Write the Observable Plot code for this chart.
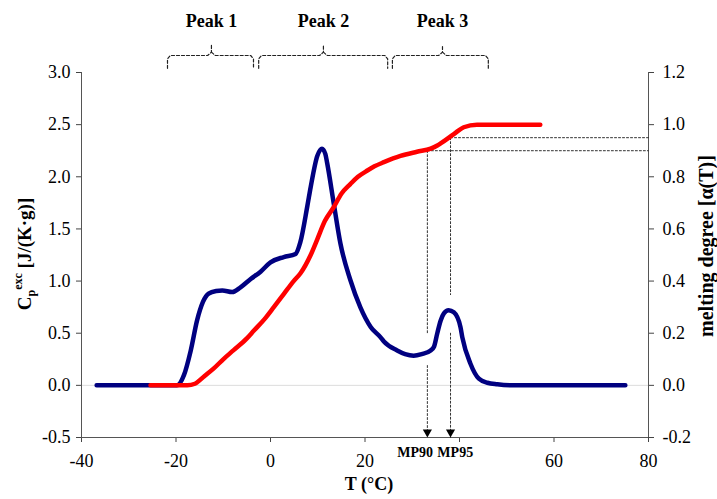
<!DOCTYPE html>
<html><head><meta charset="utf-8">
<script src="https://cdn.jsdelivr.net/npm/d3@7"></script>
<script src="https://cdn.jsdelivr.net/npm/@observablehq/plot@0.6"></script>
<style>body{margin:0;background:#fff} svg, svg text{font-family:"Liberation Serif", serif;}</style>
</head><body><div id="chart"></div>
<script>
// Excess heat capacity curve (blue)
const cpT = [-36.8,-19.8,-18.3,-16.9,-15.5,-14.3,-13.1,-11.5,-10.2,-8.1,-6.35,-4.2,-2.1,0,2.8,5.3,6.3,7.8,8.5,9.9,10.9,11.6,12.0,13.4,14.8,16.9,19.0,21.2,23.3,24.0,26.8,28.5,30.3,32.0,33.9,34.6,35.3,36.0,36.7,37.7,38.8,40.2,40.6,42.3,44.1,45.9,48,51.5,75.1];
const cpV = [0,0,0.10,0.33,0.63,0.80,0.88,0.905,0.91,0.895,0.94,1.02,1.09,1.18,1.23,1.26,1.37,1.72,1.90,2.20,2.27,2.22,2.13,1.74,1.36,1.01,0.75,0.56,0.46,0.42,0.335,0.30,0.285,0.30,0.335,0.37,0.50,0.62,0.69,0.72,0.70,0.56,0.46,0.21,0.064,0.025,0.01,0,0];
// Melting degree alpha(T) (red, right axis)
const alphaT = [-25.4,-17.6,-16,-15.5,-14,-12,-10,-7.8,-5,-3.5,-1,0.7,2.8,4.9,6.35,8.5,9.9,11.5,13.4,15,16.9,18.5,20.5,22,24.0,27.5,31.0,33.9,35.3,36.0,38.8,40.9,43.7,57.1];
const alphaV = [0,0,0.006,0.012,0.035,0.065,0.10,0.135,0.18,0.21,0.26,0.30,0.35,0.40,0.43,0.50,0.56,0.63,0.684,0.735,0.772,0.80,0.824,0.84,0.856,0.88,0.896,0.908,0.92,0.928,0.964,0.99,1.0,1.0];

const xTicks = [-40,-20,0,20,40,60,80];
const yLeftTicks = [-0.5,0,0.5,1.0,1.5,2.0,2.5,3.0];
const yRightTicks = [-0.2,0,0.2,0.4,0.6,0.8,1.0,1.2];
const rightToLeft = 2.5; // 1.2 on right axis == 3.0 on left axis

const peakLabels = ["Peak 1","Peak 2","Peak 3"];
const peakStart = [-21.8,-2.5,25.8];
const peakMid = [-12.5,11.2,36.4];
const peakEnd = [-3.6,24.8,46.1];

const mpLabels = ["MP90","MP95"];
const mpT = [33.2,38.1];
const mpAlpha = [0.90,0.95];
const mpGapTop = [0.5,0.87];    // lower end of upper dashed segment (left-axis units)
const mpGapBottom = [0.19,0.5]; // upper end of lower dashed segment
const mpLabelT = [30.6,39.1];

const cp = cpT.map((t,i)=>({t, v:cpV[i]}));
const alpha = alphaT.map((t,i)=>({t, a:alphaV[i]}));

// brace paths
const braces = [];
peakLabels.forEach((p,i)=>{
  const s=peakStart[i], m=peakMid[i], e=peakEnd[i];
  const pts1=[[s,3.04],[s,3.13],[s+0.6,3.163],[m-0.8,3.163],[m,3.195],[m,3.26]];
  const pts2=[[m,3.195],[m+0.8,3.163],[e-0.6,3.163],[e,3.13],[e,3.04]];
  pts1.forEach(q=>braces.push({t:q[0],v:q[1],k:p+"a"}));
  pts2.forEach(q=>braces.push({t:q[0],v:q[1],k:p+"b"}));
});
const peaks = peakLabels.map((p,i)=>({p, t:peakMid[i]}));

const mpLines = [];
mpLabels.forEach((m,i)=>{
  const top = mpAlpha[i]*rightToLeft;
  mpLines.push({t:mpT[i],v:top,k:m+"v1"},{t:mpT[i],v:mpGapTop[i],k:m+"v1"});
  mpLines.push({t:mpT[i],v:mpGapBottom[i],k:m+"v2"},{t:mpT[i],v:-0.5,k:m+"v2"});
  mpLines.push({t:mpT[i],v:top,k:m+"h"},{t:80,v:top,k:m+"h"});
});
const mps = mpLabels.map((m,i)=>({m, t:mpT[i], lt:mpLabelT[i]}));

const font = '"Liberation Serif", serif';
const plot = Plot.plot({
  width: 717, height: 499,
  marginLeft: 81, marginRight: 69, marginTop: 72, marginBottom: 62,
  style: {fontFamily: font, fontSize: "18px", background: "#fff", color: "#000"},
  x: {domain: [-40,80]},
  y: {domain: [-0.5,3.0]},
  marks: [
    Plot.ruleY([0], {stroke:"#dcdcdc", strokeWidth:1}),
    Plot.axisX(xTicks, {anchor:"bottom", tickSize:5, tickPadding:12, fontSize:18, label:null, stroke:"#444",
      tickFormat: d => d===40 ? "" : String(d)}),
    Plot.axisY(yLeftTicks, {anchor:"left", tickSize:5, tickPadding:6, fontSize:18, label:null, stroke:"#444",
      tickFormat: d => d.toFixed(1)}),
    Plot.axisY(yRightTicks, {anchor:"right", tickSize:5, tickPadding:9, fontSize:18, label:null, stroke:"#444",
      y: d => d*rightToLeft, text: d => d.toFixed(1)}),
    Plot.ruleX([-40], {stroke:"#555"}),
    Plot.ruleX([80], {stroke:"#555"}),
    Plot.ruleY([-0.5], {stroke:"#555"}),
    Plot.line(mpLines, {x:"t", y:"v", z:"k", stroke:"#333", strokeWidth:1, strokeDasharray:"2,2"}),
    Plot.dot(mps, {x:"t", y:()=>-0.5, symbol:"triangle", rotate:180, r:3.4, fill:"#000", stroke:null, dy:-5.3}),
    Plot.text(mps, {x:"lt", y:()=>-0.5, text:"m", dy:15, fontWeight:"bold", fontSize:14}),
    Plot.line(cp, {x:"t", y:"v", stroke:"#000080", strokeWidth:4.5, curve:"monotone-x"}),
    Plot.line(alpha, {x:"t", y:d=>d.a*rightToLeft, stroke:"#ff0000", strokeWidth:4.5, curve:"monotone-x"}),
    Plot.line(braces, {x:"t", y:"v", z:"k", stroke:"#222", strokeWidth:1.2, strokeDasharray:"3,2"}),
    Plot.text(peaks, {x:"t", y:()=>3.49, text:"p", fontWeight:"bold", fontSize:18})
  ]
});
const svg = d3.select(plot);
const lt = svg.append("text").attr("transform","translate(31,254) rotate(-90)")
  .attr("text-anchor","middle").attr("font-weight","bold").attr("font-size",19);
lt.append("tspan").text("C");
lt.append("tspan").attr("font-size",12).attr("dy",4).text("p");
lt.append("tspan").attr("font-size",12).attr("dy",-13).text("exc");
lt.append("tspan").attr("dy",9).text(" [J/(K·g)]");
svg.append("text").attr("transform","translate(708,246) rotate(-90)")
  .attr("text-anchor","middle").attr("font-weight","bold").attr("font-size",20)
  .attr("dominant-baseline","middle").text("melting degree [α(T)]");
svg.append("text").attr("x",369).attr("y",490)
  .attr("text-anchor","middle").attr("font-weight","bold").attr("font-size",18)
  .text("T (°C)");
document.getElementById("chart").appendChild(plot);
</script>
</body></html>
